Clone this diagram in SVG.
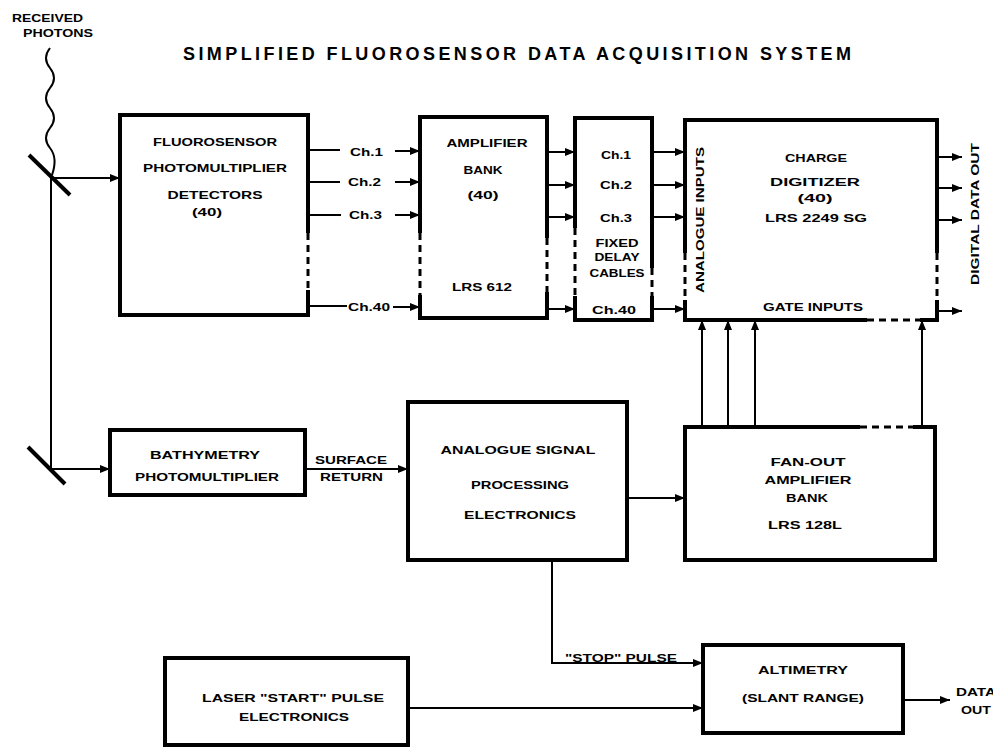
<svg xmlns="http://www.w3.org/2000/svg" width="993" height="747" viewBox="0 0 993 747">
<defs>
<style>
.t{font-family:"Liberation Sans",Arial,sans-serif;font-weight:bold;font-size:11px;fill:#000}
.title{font-family:"Liberation Sans",Arial,sans-serif;font-weight:bold;font-size:18px;fill:#000}
.box{fill:none;stroke:#000;stroke-width:4}
.dash{fill:none;stroke:#000;stroke-width:3;stroke-dasharray:7,5}
.c{fill:none;stroke:#000;stroke-width:2}
</style>
<marker id="a" viewBox="0 0 10 10" refX="10" refY="5" markerWidth="5" markerHeight="5" orient="auto" markerUnits="strokeWidth">
<path d="M0,1 L10,5 L0,9 z" fill="#000"/>
</marker>
</defs>
<rect width="993" height="747" fill="#fff"/>

<text class="title" x="517" y="60" text-anchor="middle" textLength="668" lengthAdjust="spacing">SIMPLIFIED FLUOROSENSOR DATA ACQUISITION SYSTEM</text>

<g id="photons">
<text class="t" x="12" y="22" textLength="71" lengthAdjust="spacingAndGlyphs" style="font-size:10px">RECEIVED</text>
<text class="t" x="23" y="37" textLength="70" lengthAdjust="spacingAndGlyphs" style="font-size:10px">PHOTONS</text>
<path class="c" d="M50,48 Q42,58 50,68 T50,88 T50,108 T50,128 T50,148 T52,175"/>
</g>
<g id="mirror1"><line x1="29" y1="155" x2="70" y2="195" stroke="#000" stroke-width="4"/></g>
<g id="mirror2"><line x1="28" y1="447" x2="65" y2="484" stroke="#000" stroke-width="4"/></g>

<g id="fluorosensor">
<path class="box" d="M308,233 V115 H120 V315 H308 V290"/>
<path class="dash" d="M308,233 V290"/>
<text class="t" x="215" y="146" text-anchor="middle" textLength="124" lengthAdjust="spacingAndGlyphs">FLUOROSENSOR</text>
<text class="t" x="215" y="172" text-anchor="middle" textLength="144" lengthAdjust="spacingAndGlyphs">PHOTOMULTIPLIER</text>
<text class="t" x="215" y="199" text-anchor="middle" textLength="95" lengthAdjust="spacingAndGlyphs">DETECTORS</text>
<text class="t" x="207" y="216" text-anchor="middle" textLength="30" lengthAdjust="spacingAndGlyphs">(40)</text>
</g>

<g id="amplifier">
<path class="box" d="M420,233 V117 H547 V238 M547,292 V318 H420 V295"/>
<path class="dash" d="M420,233 V295 M547,238 V292"/>
<text class="t" x="487" y="147" text-anchor="middle" textLength="81" lengthAdjust="spacingAndGlyphs">AMPLIFIER</text>
<text class="t" x="483" y="174" text-anchor="middle" textLength="39" lengthAdjust="spacingAndGlyphs">BANK</text>
<text class="t" x="483" y="199" text-anchor="middle" textLength="31" lengthAdjust="spacingAndGlyphs">(40)</text>
<text class="t" x="482" y="291" text-anchor="middle" textLength="60" lengthAdjust="spacingAndGlyphs">LRS 612</text>
</g>

<g id="delay">
<path class="box" d="M575,228 V118 H652 V268 M652,296 V320 H575 V296"/>
<path class="dash" d="M575,228 V296 M652,268 V296"/>
<text class="t" x="616" y="159" text-anchor="middle" textLength="30" lengthAdjust="spacingAndGlyphs">Ch.1</text>
<text class="t" x="616" y="189" text-anchor="middle" textLength="32" lengthAdjust="spacingAndGlyphs">Ch.2</text>
<text class="t" x="616" y="222" text-anchor="middle" textLength="32" lengthAdjust="spacingAndGlyphs">Ch.3</text>
<text class="t" x="617" y="247" text-anchor="middle" textLength="43" lengthAdjust="spacingAndGlyphs">FIXED</text>
<text class="t" x="617" y="261" text-anchor="middle" textLength="45" lengthAdjust="spacingAndGlyphs">DELAY</text>
<text class="t" x="617" y="277" text-anchor="middle" textLength="55" lengthAdjust="spacingAndGlyphs">CABLES</text>
<text class="t" x="614" y="314" text-anchor="middle" textLength="44" lengthAdjust="spacingAndGlyphs">Ch.40</text>
</g>

<g id="digitizer">
<path class="box" d="M685,253 V120 H937 V253 M937,300 V320 H920 M867,320 H685 V300"/>
<path class="dash" d="M685,253 V300 M937,253 V300 M867,320 H920"/>
<text class="t" x="816" y="162" text-anchor="middle" textLength="62" lengthAdjust="spacingAndGlyphs">CHARGE</text>
<text class="t" x="815" y="186" text-anchor="middle" textLength="90" lengthAdjust="spacingAndGlyphs">DIGITIZER</text>
<text class="t" x="815" y="202" text-anchor="middle" textLength="35" lengthAdjust="spacingAndGlyphs">(40)</text>
<text class="t" x="816" y="222" text-anchor="middle" textLength="102" lengthAdjust="spacingAndGlyphs">LRS 2249 SG</text>
<text class="t" x="813" y="311" text-anchor="middle" textLength="100" lengthAdjust="spacingAndGlyphs">GATE INPUTS</text>
<text class="t" transform="translate(704,220) rotate(-90)" x="0" y="0" text-anchor="middle" textLength="146" lengthAdjust="spacingAndGlyphs">ANALOGUE INPUTS</text>
</g>
<text class="t" transform="translate(979,214) rotate(-90)" x="0" y="0" text-anchor="middle" textLength="142" lengthAdjust="spacingAndGlyphs">DIGITAL DATA OUT</text>

<g id="bathymetry">
<rect class="box" x="110" y="430" width="195" height="65"/>
<text class="t" x="205" y="459" text-anchor="middle" textLength="110" lengthAdjust="spacingAndGlyphs">BATHYMETRY</text>
<text class="t" x="207" y="481" text-anchor="middle" textLength="144" lengthAdjust="spacingAndGlyphs">PHOTOMULTIPLIER</text>
</g>

<g id="asp">
<rect class="box" x="408" y="402" width="219" height="158"/>
<text class="t" x="518" y="454" text-anchor="middle" textLength="155" lengthAdjust="spacingAndGlyphs">ANALOGUE SIGNAL</text>
<text class="t" x="520" y="489" text-anchor="middle" textLength="98" lengthAdjust="spacingAndGlyphs">PROCESSING</text>
<text class="t" x="520" y="519" text-anchor="middle" textLength="112" lengthAdjust="spacingAndGlyphs">ELECTRONICS</text>
</g>

<g id="fanout">
<path class="box" d="M860,427 H685 V560 H935 V427 H913"/>
<path class="dash" d="M860,427 H913"/>
<text class="t" x="808" y="466" text-anchor="middle" textLength="75" lengthAdjust="spacingAndGlyphs">FAN-OUT</text>
<text class="t" x="808" y="484" text-anchor="middle" textLength="87" lengthAdjust="spacingAndGlyphs">AMPLIFIER</text>
<text class="t" x="807" y="502" text-anchor="middle" textLength="42" lengthAdjust="spacingAndGlyphs">BANK</text>
<text class="t" x="805" y="529" text-anchor="middle" textLength="74" lengthAdjust="spacingAndGlyphs">LRS 128L</text>
</g>

<g id="laser">
<rect class="box" x="165" y="658" width="243" height="87"/>
<text class="t" x="293" y="702" text-anchor="middle" textLength="182" lengthAdjust="spacingAndGlyphs">LASER "START" PULSE</text>
<text class="t" x="294" y="721" text-anchor="middle" textLength="110" lengthAdjust="spacingAndGlyphs">ELECTRONICS</text>
</g>

<g id="altimetry">
<rect class="box" x="703" y="645" width="200" height="88"/>
<text class="t" x="803" y="674" text-anchor="middle" textLength="90" lengthAdjust="spacingAndGlyphs">ALTIMETRY</text>
<text class="t" x="803" y="702" text-anchor="middle" textLength="122" lengthAdjust="spacingAndGlyphs">(SLANT RANGE)</text>
</g>

<g id="labels">
<text class="t" x="350" y="156" textLength="33" lengthAdjust="spacingAndGlyphs">Ch.1</text>
<text class="t" x="348" y="186" textLength="33" lengthAdjust="spacingAndGlyphs">Ch.2</text>
<text class="t" x="349" y="219" textLength="33" lengthAdjust="spacingAndGlyphs">Ch.3</text>
<text class="t" x="348" y="311" textLength="42" lengthAdjust="spacingAndGlyphs">Ch.40</text>
<text class="t" x="315" y="464" textLength="72" lengthAdjust="spacingAndGlyphs">SURFACE</text>
<text class="t" x="320" y="481" textLength="63" lengthAdjust="spacingAndGlyphs">RETURN</text>
<text class="t" x="565" y="662" textLength="112" lengthAdjust="spacingAndGlyphs">"STOP" PULSE</text>
<text class="t" x="956" y="696" textLength="40" lengthAdjust="spacingAndGlyphs">DATA</text>
<text class="t" x="961" y="714" textLength="30" lengthAdjust="spacingAndGlyphs">OUT</text>
</g>

<g id="connectors">
<line class="c" x1="51" y1="178" x2="51" y2="468"/>
<line class="c" x1="51" y1="178" x2="120" y2="178" marker-end="url(#a)"/>
<line class="c" x1="51" y1="469" x2="110" y2="469" marker-end="url(#a)"/>
<line class="c" x1="308" y1="150" x2="340" y2="150"/>
<line class="c" x1="395" y1="151" x2="420" y2="151" marker-end="url(#a)"/>
<line class="c" x1="308" y1="182" x2="340" y2="182"/>
<line class="c" x1="395" y1="182" x2="420" y2="182" marker-end="url(#a)"/>
<line class="c" x1="308" y1="215" x2="341" y2="215"/>
<line class="c" x1="395" y1="215" x2="420" y2="215" marker-end="url(#a)"/>
<line class="c" x1="308" y1="306" x2="347" y2="306"/>
<line class="c" x1="393" y1="307" x2="420" y2="307" marker-end="url(#a)"/>
<line class="c" x1="547" y1="152" x2="575" y2="152" marker-end="url(#a)"/>
<line class="c" x1="547" y1="185" x2="575" y2="185" marker-end="url(#a)"/>
<line class="c" x1="547" y1="217" x2="575" y2="217" marker-end="url(#a)"/>
<line class="c" x1="547" y1="309" x2="575" y2="309" marker-end="url(#a)"/>
<line class="c" x1="652" y1="152" x2="685" y2="152" marker-end="url(#a)"/>
<line class="c" x1="652" y1="185" x2="685" y2="185" marker-end="url(#a)"/>
<line class="c" x1="652" y1="217" x2="685" y2="217" marker-end="url(#a)"/>
<line class="c" x1="652" y1="309" x2="685" y2="309" marker-end="url(#a)"/>
<line class="c" x1="937" y1="157" x2="962" y2="157" marker-end="url(#a)"/>
<line class="c" x1="937" y1="188" x2="962" y2="188" marker-end="url(#a)"/>
<line class="c" x1="937" y1="220" x2="962" y2="220" marker-end="url(#a)"/>
<line class="c" x1="937" y1="311" x2="962" y2="311" marker-end="url(#a)"/>
<line class="c" x1="702" y1="427" x2="702" y2="320" marker-end="url(#a)"/>
<line class="c" x1="728" y1="427" x2="728" y2="320" marker-end="url(#a)"/>
<line class="c" x1="755" y1="427" x2="755" y2="320" marker-end="url(#a)"/>
<line class="c" x1="922" y1="427" x2="922" y2="320" marker-end="url(#a)"/>
<line class="c" x1="305" y1="469" x2="408" y2="469" marker-end="url(#a)"/>
<line class="c" x1="627" y1="498" x2="685" y2="498" marker-end="url(#a)"/>
<path class="c" d="M552,560 V663 H703" marker-end="url(#a)"/>
<line class="c" x1="408" y1="708" x2="703" y2="708" marker-end="url(#a)"/>
<line class="c" x1="903" y1="700" x2="950" y2="700" marker-end="url(#a)"/>
</g>
</svg>
